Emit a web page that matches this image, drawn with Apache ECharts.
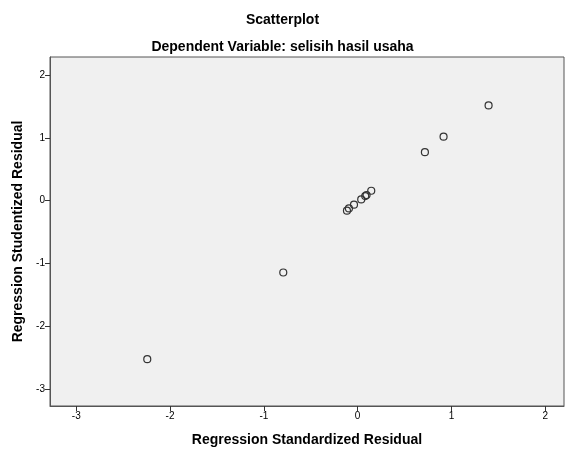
<!DOCTYPE html>
<html>
<head>
<meta charset="utf-8">
<script src="https://cdn.jsdelivr.net/npm/echarts@6/dist/echarts.min.js"></script>
<style>html,body{margin:0;padding:0;background:#fff;}#c{width:565px;height:452px;}</style>
</head>
<body>
<div id="c"></div>
<script>
const standardizedResidual = [-2.243, -0.793, 0.717, 0.916, 1.396, -0.114, -0.093, -0.039, 0.038, 0.081, 0.095, 0.145];
const studentizedResidual  = [-2.524, -1.143, 0.773, 1.021, 1.519, -0.159, -0.122, -0.063, 0.021, 0.075, 0.090, 0.159];
const xTicks = [-3, -2, -1, 0, 1, 2];
const yTicks = [-3, -2, -1, 0, 1, 2];

const points = standardizedResidual.map((x, i) => [x, studentizedResidual[i]]);
const font = 'Liberation Sans, Arial, sans-serif';

const chart = echarts.init(document.getElementById('c'));
chart.setOption({
  animation: false,
  backgroundColor: '#ffffff',
  title: [
    { text: 'Scatterplot', left: 'center', top: 8,
      textStyle: { fontFamily: font, fontSize: 14, fontWeight: 'bold', color: '#000' } },
    { text: 'Dependent Variable: selisih hasil usaha', left: 'center', top: 35,
      textStyle: { fontFamily: font, fontSize: 14, fontWeight: 'bold', color: '#000' } }
  ],
  grid: { left: 50, top: 57, right: 1, bottom: 45, show: true,
          backgroundColor: '#f0f0f0', borderColor: '#555', borderWidth: 1 },
  xAxis: {
    type: 'value', min: -3.28, max: 2.2,
    name: 'Regression Standardized Residual', nameLocation: 'middle', nameGap: 27,
    nameTextStyle: { fontFamily: font, fontSize: 14, fontWeight: 'bold', color: '#000' },
    axisLine: { show: true, onZero: false, lineStyle: { color: '#555' } },
    axisTick: { show: true, length: 5, customValues: xTicks, lineStyle: { color: '#333' } },
    axisLabel: { customValues: xTicks, fontFamily: font, fontSize: 10, color: '#000', margin: 5 },
    splitLine: { show: false }
  },
  yAxis: {
    type: 'value', min: -3.27, max: 2.29,
    name: 'Regression Studentized Residual', nameLocation: 'middle', nameGap: 25,
    nameTextStyle: { fontFamily: font, fontSize: 14, fontWeight: 'bold', color: '#000' },
    axisLine: { show: true, onZero: false, lineStyle: { color: '#555' } },
    axisTick: { show: true, length: 5, customValues: yTicks, lineStyle: { color: '#333' } },
    axisLabel: { customValues: yTicks, fontFamily: font, fontSize: 10, color: '#000', margin: 5 },
    splitLine: { show: false }
  },
  series: [{
    type: 'scatter',
    data: points,
    symbol: 'circle',
    symbolSize: 7,
    itemStyle: { color: 'rgba(0,0,0,0)', borderColor: '#333', borderWidth: 1.2, opacity: 1 }
  }]
});
</script>
</body>
</html>
